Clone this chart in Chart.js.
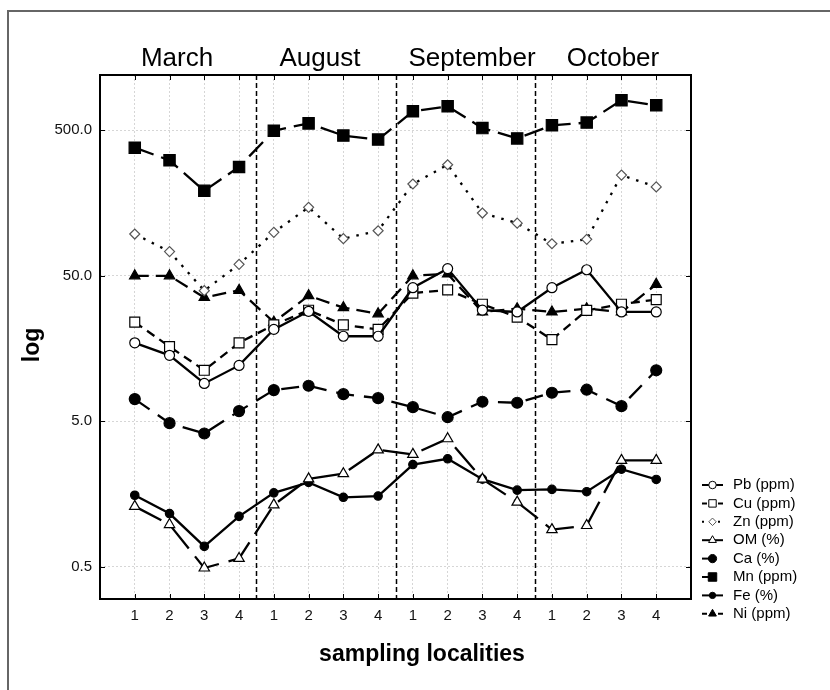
<!DOCTYPE html>
<html>
<head>
<meta charset="utf-8">
<script src="https://cdn.jsdelivr.net/npm/chart.js@4"></script>
<style>
  html, body { margin: 0; padding: 0; background: #fff; }
  #wrap { position: relative; width: 830px; height: 690px; }
  #frame { position: absolute; left: 7px; top: 10px; width: 830px; height: 700px;
           border-left: 2px solid #666; border-top: 2px solid #666; }
  canvas { position: absolute; left: 0; top: 0; }
</style>
</head>
<body>
<div id="wrap">
  <div id="frame"></div>
  <canvas id="chart" width="830" height="690"></canvas>
</div>
<script>
// four months, four sampling localities each
const months = ["March", "August", "September", "October"];
const localities = [1, 2, 3, 4];
const yTicks = [0.5, 5, 50, 500];

const pb = [17.3, 14.2, 9.1, 12.1, 21.4, 28.5, 19.2, 19.2, 41.4, 56, 29, 28.2, 41.4, 55, 28.2, 28.2];
const cu = [24, 16.3, 11.2, 17.3, 23, 29, 23, 21.4, 38, 40, 31.9, 26, 18.2, 28.9, 31.9, 34.3];
const zn = [96.8, 73.3, 39.5, 59.9, 99.4, 147.7, 90, 102, 213.7, 290, 135, 115, 83, 89, 246, 204];
const om = [1.3, 0.975, 0.49, 0.57, 1.33, 2.01, 2.18, 3.18, 2.96, 3.79, 2.0, 1.39, 0.9, 0.96, 2.69, 2.69];
const ca = [7.1, 4.85, 4.12, 5.87, 8.19, 8.77, 7.68, 7.21, 6.25, 5.33, 6.81, 6.7, 7.85, 8.24, 6.35, 11.2];
const mn = [380, 311, 192, 280, 497, 558, 460, 432, 675, 731, 518, 440, 541, 565, 804, 743];
const fe = [1.55, 1.16, 0.69, 1.11, 1.61, 1.9, 1.5, 1.53, 2.52, 2.76, 2.0, 1.68, 1.7, 1.64, 2.34, 1.99];
const ni = [50, 50, 35.5, 39.7, 24, 36.5, 30.2, 27.4, 50, 51.5, 28.2, 29.7, 28.2, 29.7, 28.2, 43.7];

const FONT = "'Liberation Sans', Arial, sans-serif";

function pts(arr) {
  return arr.map((v, i) => ({ x: i + 1, y: v }));
}

function series(label, arr, o) {
  return {
    label: label,
    data: pts(arr),
    borderColor: "#000",
    borderWidth: 2.3,
    borderDash: o.dash || [],
    pointStyle: o.style,
    pointRadius: o.r,
    pointHoverRadius: o.r,
    pointBackgroundColor: o.fill,
    pointBorderColor: o.pcolor || "#000",
    pointBorderWidth: 1.2,
    tension: 0,
    legendDash: o.ldash,
    legendHalf: o.half || false,
  };
}

const datasets = [
  series("Pb (ppm)", pb, { style: "circle", r: 5, fill: "#fff" }),
  series("Cu (ppm)", cu, { style: "rect", r: 7, fill: "#fff", dash: [9, 6], ldash: [5, 3] }),
  series("Zn (ppm)", zn, { style: "rectRot", r: 5, fill: "#fff", pcolor: "#555", dash: [2.5, 7], ldash: [2, 6] }),
  series("OM (%)", om, { style: "triangle", r: 6, fill: "#fff", dash: [30, 10] }),
  series("Ca (%)", ca, { style: "circle", r: 5.5, fill: "#000", dash: [18, 10], half: true }),
  series("Mn (ppm)", mn, { style: "rect", r: 8, fill: "#000", dash: [20, 8], half: true }),
  series("Fe (%)", fe, { style: "circle", r: 4.2, fill: "#000" }),
  series("Ni (ppm)", ni, { style: "triangle", r: 6, fill: "#000", dash: [14, 7], ldash: [5, 3] }),
];

const deco = {
  id: "deco",
  beforeDatasetsDraw(chart) {
    const { ctx, chartArea: a, scales } = chart;
    ctx.save();
    ctx.strokeStyle = "#000";
    ctx.lineWidth = 1.5;
    ctx.setLineDash([5, 3]);
    [4.5, 8.5, 12.5].forEach((v) => {
      const x = Math.round(scales.x.getPixelForValue(v)) + 0.5;
      ctx.beginPath();
      ctx.moveTo(x, a.top);
      ctx.lineTo(x, a.bottom);
      ctx.stroke();
    });
    ctx.restore();
  },
  afterDraw(chart) {
    const { ctx, chartArea: a, scales } = chart;
    ctx.save();
    // plot frame
    ctx.strokeStyle = "#000";
    ctx.lineWidth = 2;
    ctx.setLineDash([]);
    ctx.strokeRect(a.left, a.top, a.right - a.left, a.bottom - a.top);
    // inward ticks
    ctx.lineWidth = 1;
    for (let i = 1; i <= 16; i++) {
      const x = Math.round(scales.x.getPixelForValue(i)) + 0.5;
      ctx.beginPath();
      ctx.moveTo(x, a.bottom); ctx.lineTo(x, a.bottom - 5);
      ctx.moveTo(x, a.top); ctx.lineTo(x, a.top + 5);
      ctx.stroke();
    }
    yTicks.forEach((v) => {
      const y = Math.round(scales.y.getPixelForValue(v)) + 0.5;
      ctx.beginPath();
      ctx.moveTo(a.left, y); ctx.lineTo(a.left + 5, y);
      ctx.moveTo(a.right, y); ctx.lineTo(a.right - 5, y);
      ctx.stroke();
    });
    // month headers
    ctx.fillStyle = "#000";
    ctx.font = "26px " + FONT;
    ctx.textAlign = "center";
    ctx.textBaseline = "alphabetic";
    const monthX = [177, 320, 472, 613];
    months.forEach((m, i) => ctx.fillText(m, monthX[i], 66));
    // axis titles
    ctx.font = "bold 23px " + FONT;
    ctx.fillText("sampling localities", 422, 661);
    ctx.save();
    ctx.translate(39, 345);
    ctx.rotate(-Math.PI / 2);
    ctx.fillText("log", 0, 0);
    ctx.restore();
    // legend
    ctx.font = "15px " + FONT;
    ctx.textAlign = "left";
    ctx.textBaseline = "middle";
    chart.data.datasets.forEach((ds, i) => {
      const y = 485 + i * 18.4;
      const x0 = 702, x1 = 723, xm = 712.5;
      ctx.strokeStyle = "#000";
      ctx.lineWidth = 2;
      ctx.setLineDash(ds.legendDash || []);
      ctx.beginPath();
      ctx.moveTo(x0, y);
      ctx.lineTo(ds.legendHalf ? xm : x1, y);
      ctx.stroke();
      ctx.setLineDash([]);
      ctx.fillStyle = ds.pointBackgroundColor;
      ctx.strokeStyle = ds.pointBorderColor;
      ctx.lineWidth = 1;
      Chart.helpers.drawPoint(ctx, { pointStyle: ds.pointStyle, radius: ds.pointRadius * 0.75, rotation: 0, borderWidth: 1 }, xm, y);
      ctx.fillStyle = "#000";
      ctx.fillText(ds.label, 733, y);
    });
    ctx.restore();
  },
};

new Chart(document.getElementById("chart"), {
  type: "line",
  data: { datasets: datasets },
  plugins: [deco],
  options: {
    responsive: false,
    animation: false,
    layout: { padding: { left: 0, top: 75, right: 139, bottom: 0 } },
    plugins: { legend: { display: false }, tooltip: { enabled: false } },
    scales: {
      x: {
        type: "linear",
        min: 0,
        max: 17,
        afterFit: (s) => { s.height = 91; },
        afterBuildTicks: (s) => {
          s.ticks = [];
          for (let i = 0; i <= 17; i++) s.ticks.push({ value: i });
        },
        ticks: {
          autoSkip: false,
          maxRotation: 0,
          padding: 8,
          color: "#111",
          font: { family: FONT, size: 15 },
          callback: (v) => (v >= 1 && v <= 16 ? localities[(v - 1) % 4] : ""),
        },
        grid: {
          drawTicks: false,
          color: (c) => (c.tick && c.tick.value >= 1 && c.tick.value <= 16 ? "#d6d6d6" : "rgba(0,0,0,0)"),
          lineWidth: 1,
        },
        border: { display: false, dash: [2, 2] },
      },
      y: {
        type: "logarithmic",
        min: 0.3,
        max: 1200,
        afterFit: (s) => { s.width = 100; },
        afterBuildTicks: (s) => { s.ticks = yTicks.map((v) => ({ value: v })); },
        ticks: {
          padding: 8,
          color: "#111",
          font: { family: FONT, size: 15 },
          callback: (v) => Number(v).toFixed(1),
        },
        grid: { drawTicks: false, color: "#d6d6d6", lineWidth: 1 },
        border: { display: false, dash: [2, 2] },
      },
    },
  },
});
</script>
</body>
</html>
